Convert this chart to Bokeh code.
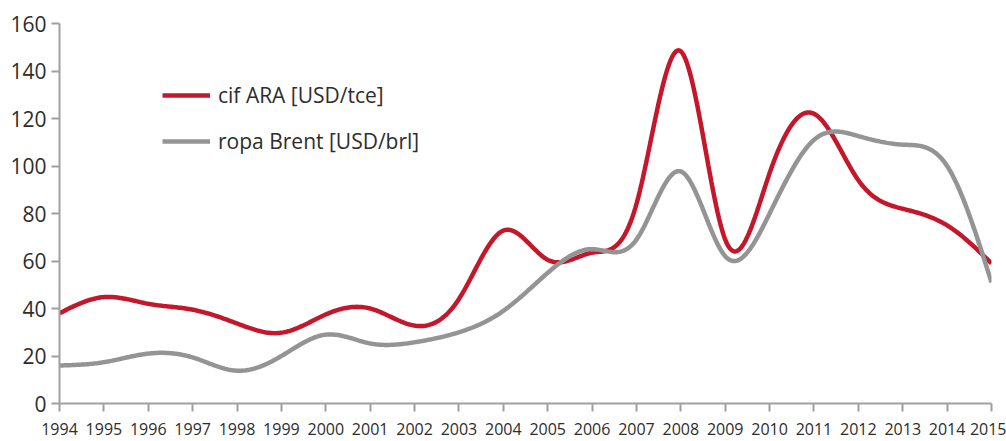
import numpy as np
from bokeh.plotting import figure
from bokeh.models import Legend, LegendItem, FixedTicker, Range1d
from bokeh.embed import file_html
from bokeh.resources import INLINE

years = list(range(1994, 2016))
cif_ara = [38, 44.8, 42, 39.5, 33.7, 29.8, 37.5, 40, 32.8, 44, 72.8, 60.5, 63.5, 84, 148.3, 69, 97, 122, 94, 82, 75, 59]
brent = [16, 17.4, 21, 19.4, 13.8, 20, 29, 25.3, 25.8, 30, 39, 55, 65, 69, 97.7, 62, 80, 111, 112.6, 109, 100, 51]

y_ticks = [0, 20, 40, 60, 80, 100, 120, 140, 160]


def natural_spline(x, y, n=600):
    x = np.asarray(x, float)
    y = np.asarray(y, float)
    m = len(x)
    h = np.diff(x)
    A = np.zeros((m, m))
    b = np.zeros(m)
    A[0, 0] = 1
    A[-1, -1] = 1
    for i in range(1, m - 1):
        A[i, i - 1] = h[i - 1]
        A[i, i] = 2 * (h[i - 1] + h[i])
        A[i, i + 1] = h[i]
        b[i] = 6 * ((y[i + 1] - y[i]) / h[i] - (y[i] - y[i - 1]) / h[i - 1])
    M = np.linalg.solve(A, b)
    xs = np.linspace(x[0], x[-1], n)
    idx = np.clip(np.searchsorted(x, xs) - 1, 0, m - 2)
    x0 = x[idx]
    x1 = x[idx + 1]
    hh = x1 - x0
    t0 = x1 - xs
    t1 = xs - x0
    ys = (M[idx] * t0 ** 3 / (6 * hh) + M[idx + 1] * t1 ** 3 / (6 * hh)
          + (y[idx] / hh - M[idx] * hh / 6) * t0
          + (y[idx + 1] / hh - M[idx + 1] * hh / 6) * t1)
    return xs, ys


p = figure(width=1006, height=441, output_backend="svg", toolbar_location=None,
           x_range=Range1d(1994, 2015), y_range=Range1d(0, 160),
           min_border_left=59, min_border_right=15, min_border_top=23, min_border_bottom=38)
p.outline_line_color = None
p.xgrid.visible = False
p.ygrid.visible = False

RED = "#c4172c"
GRAY = "#949494"

xs, ys = natural_spline(years, cif_ara)
r1 = p.line(xs, ys, line_color=RED, line_width=4.5)
xs, ys = natural_spline(years, brent)
r2 = p.line(xs, ys, line_color=GRAY, line_width=4.5)

for ax in (p.xaxis[0], p.yaxis[0]):
    ax.axis_line_color = "#a0a0a0"
    ax.axis_line_width = 2
    ax.major_tick_line_color = "#a0a0a0"
    ax.major_tick_line_width = 2
    ax.major_tick_in = 0
    ax.major_tick_out = 8
    ax.minor_tick_line_color = None
    ax.major_label_text_color = "#2d2d2d"
    ax.major_label_text_font = "Open Sans"

p.xaxis.ticker = FixedTicker(ticks=years)
p.xaxis.major_label_text_font_size = "16px"
p.xaxis.major_label_standoff = 11
p.yaxis.ticker = FixedTicker(ticks=y_ticks)
p.yaxis.major_label_text_font_size = "21px"
p.yaxis.major_label_standoff = 5

legend = Legend(items=[LegendItem(label="cif ARA [USD/tce]", renderers=[r1]),
                       LegendItem(label="ropa Brent [USD/brl]", renderers=[r2])],
                location=(103, 248), orientation="vertical")
legend.background_fill_alpha = 0
legend.border_line_color = None
legend.padding = 0
legend.margin = 0
legend.spacing = 18
legend.glyph_width = 48
legend.glyph_height = 20
legend.label_height = 20
legend.label_standoff = 8
legend.label_text_font = "Open Sans"
legend.label_text_font_size = "21px"
legend.label_text_color = "#2d2d2d"
p.add_layout(legend, "center")

open("out.html", "w").write(file_html(p, INLINE))
